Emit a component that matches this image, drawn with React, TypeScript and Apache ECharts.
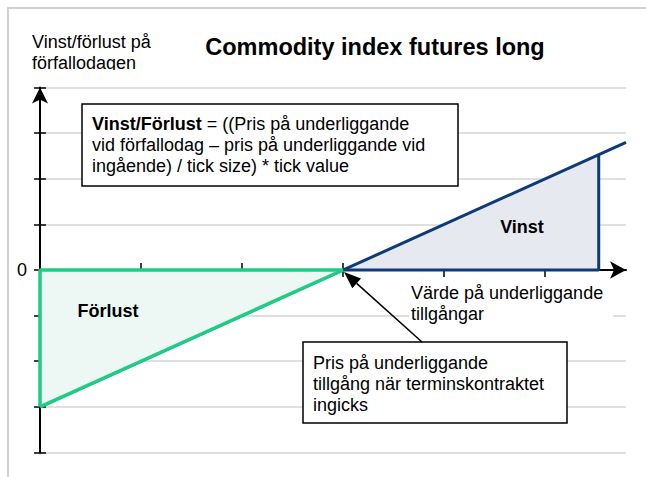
import React, { useEffect, useRef } from "react";
import * as echarts from "echarts";

// ---- data ----
const xMin = 0;
const xMax = 5.8;
const yMin = -4;
const yMax = 4;
const xTickValues = [1, 2, 3, 4, 5];
const yLabelValues = [0];
const payoffX = [0, 5.8];
const payoffY = [-3, 2.8];
const vinstHypX = [3, 5.53];
const vinstHypY = [0, 2.53];
const vinstEdgeX = [3, 5.53, 5.53];
const vinstEdgeY = [0, 0, 2.53];
const forlustHypX = [0, 3];
const forlustHypY = [-3, 0];
const forlustEdgeX = [0, 0, 3];
const forlustEdgeY = [-3, 0, 0];

const titleText = "Commodity index futures long";
const yTitleLines = ["Vinst/förlust på", "förfallodagen"];
const formulaBold = "Vinst/Förlust";
const formulaLines = [
  " = ((Pris på underliggande",
  "vid förfallodag – pris på underliggande vid",
  "ingående) / tick size) * tick value",
];
const xTitleLines = ["Värde på underliggande", "tillgångar"];
const noteLines = [
  "Pris på underliggande",
  "tillgång när terminskontraktet",
  "ingicks",
];
const vinstLabel = "Vinst";
const forlustLabel = "Förlust";

const FONT = "'Liberation Sans', Arial, Helvetica, sans-serif";
const BLUE = "#0c3b78";
const GREEN = "#1fcc86";

const zip = (xs: number[], ys: number[]) => xs.map((x, i) => [x, ys[i]]);

export default function App() {
  const ref = useRef<HTMLDivElement>(null);

  useEffect(() => {
    if (!ref.current) return;
    const chart = echarts.init(ref.current, null, { renderer: "svg" });

    // annotation arrow geometry
    const tip = [344, 272];
    const tail = [422, 342];
    const dx = tip[0] - tail[0];
    const dy = tip[1] - tail[1];
    const len = Math.sqrt(dx * dx + dy * dy);
    const ux = dx / len;
    const uy = dy / len;
    const hl = 17;
    const hw = 6.5;
    const bx = tip[0] - ux * hl;
    const by = tip[1] - uy * hl;
    const nx = -uy * hw;
    const ny = ux * hw;

    const baseX = {
      type: "value",
      min: xMin,
      max: xMax,
      gridIndex: 0,
      position: "bottom",
      splitLine: { show: false },
      axisLabel: { show: false },
    };
    const baseY = {
      type: "value",
      min: yMin,
      max: yMax,
      interval: 1,
      gridIndex: 0,
      position: "left",
    };

    const option: any = {
      animation: false,
      backgroundColor: "#ffffff",
      grid: {
        left: 40,
        top: 87.6,
        width: 586,
        height: 364.8,
        containLabel: false,
        outerBoundsMode: "none",
      },
      xAxis: [
        {
          ...baseX,
          axisLine: {
            show: true,
            onZero: true,
            symbol: ["none", "arrow"],
            symbolSize: [13, 16],
            lineStyle: { color: "#000", width: 2 },
          },
          axisTick: {
            show: true,
            inside: false,
            length: 7,
            customValues: xTickValues,
            lineStyle: { color: "#000", width: 1.5 },
          },
        },
        {
          ...baseX,
          axisLine: {
            show: true,
            onZero: true,
            symbol: "none",
            lineStyle: { color: "#000", width: 0, opacity: 0 },
          },
          axisTick: {
            show: true,
            inside: true,
            length: 7,
            customValues: xTickValues,
            lineStyle: { color: "#000", width: 1.5 },
          },
        },
      ],
      yAxis: [
        {
          ...baseY,
          axisLine: {
            show: true,
            symbol: ["none", "arrow"],
            symbolSize: [12, 16],
            lineStyle: { color: "#000", width: 2 },
          },
          axisTick: {
            show: true,
            inside: false,
            length: 6,
            lineStyle: { color: "#000", width: 1.5 },
          },
          splitLine: {
            show: true,
            lineStyle: { color: "#d6d6d6", width: 1.5 },
          },
          axisLabel: {
            show: true,
            margin: 13,
            color: "#000",
            fontSize: 18,
            fontFamily: FONT,
            customValues: yLabelValues,
            formatter: (v: number) => (yLabelValues.includes(v) ? String(v) : ""),
          },
        },
        {
          ...baseY,
          axisLine: {
            show: true,
            symbol: "none",
            lineStyle: { color: "#000", width: 0, opacity: 0 },
          },
          axisTick: {
            show: true,
            inside: true,
            length: 6,
            lineStyle: { color: "#000", width: 1.5 },
          },
          splitLine: { show: false },
          axisLabel: { show: false },
        },
      ],
      series: [
        {
          type: "line",
          name: "vinstArea",
          data: zip(vinstHypX, vinstHypY),
          symbol: "none",
          clip: false,
          z: 2,
          lineStyle: { opacity: 0, width: 0 },
          areaStyle: { color: "#e6e9f0", opacity: 1 },
        },
        {
          type: "line",
          name: "payoff",
          data: zip(payoffX, payoffY),
          symbol: "none",
          clip: false,
          z: 3,
          lineStyle: { color: BLUE, width: 3 },
        },
        {
          type: "line",
          name: "vinstEdges",
          data: zip(vinstEdgeX, vinstEdgeY),
          symbol: "none",
          clip: false,
          z: 4,
          lineStyle: { color: BLUE, width: 3 },
        },
        {
          type: "line",
          name: "forlustArea",
          data: zip(forlustHypX, forlustHypY),
          symbol: "none",
          clip: false,
          z: 5,
          lineStyle: { color: GREEN, width: 3.5 },
          areaStyle: { color: "#edf7f3", opacity: 1 },
        },
        {
          type: "line",
          name: "forlustEdges",
          data: zip(forlustEdgeX, forlustEdgeY),
          symbol: "none",
          clip: false,
          z: 5,
          lineStyle: { color: GREEN, width: 3.5 },
        },
      ],
      graphic: [
        {
          type: "polyline",
          z: 1,
          silent: true,
          shape: { points: [[8, 477], [8, 8], [646, 8]] },
          style: { stroke: "#d2d2d2", lineWidth: 2, fill: "none" },
        },
        {
          type: "text",
          z: 100,
          x: 375,
          y: 47,
          style: {
            text: titleText,
            fontFamily: FONT,
            fontSize: 23.5,
            fontWeight: "bold",
            fill: "#000",
            align: "center",
            verticalAlign: "middle",
          },
        },
        {
          type: "text",
          z: 100,
          x: 32,
          y: 31.3,
          style: {
            text: yTitleLines.join("\n"),
            fontFamily: FONT,
            fontSize: 18,
            lineHeight: 21,
            fill: "#000",
            align: "left",
            verticalAlign: "top",
          },
        },
        {
          type: "rect",
          z: 101,
          shape: { x: 26, y: 70, width: 140, height: 12 },
          style: { fill: "#ffffff" },
        },
        {
          type: "rect",
          z: 100,
          shape: { x: 82, y: 104, width: 376, height: 82 },
          style: { fill: "#ffffff", stroke: "#000", lineWidth: 1.5 },
        },
        {
          type: "text",
          z: 101,
          x: 92,
          y: 113.3,
          style: {
            text: "{b|" + formulaBold + "}" + formulaLines.join("\n"),
            fontFamily: FONT,
            fontSize: 18,
            lineHeight: 21,
            fill: "#000",
            align: "left",
            verticalAlign: "top",
            rich: {
              b: {
                fontFamily: FONT,
                fontSize: 18,
                lineHeight: 21,
                fontWeight: "bold",
                fill: "#000",
              },
            },
          },
        },
        {
          type: "text",
          z: 100,
          x: 522,
          y: 227,
          style: {
            text: vinstLabel,
            fontFamily: FONT,
            fontSize: 18,
            fontWeight: "bold",
            fill: "#000",
            align: "center",
            verticalAlign: "middle",
          },
        },
        {
          type: "text",
          z: 100,
          x: 108,
          y: 311,
          style: {
            text: forlustLabel,
            fontFamily: FONT,
            fontSize: 18,
            fontWeight: "bold",
            fill: "#000",
            align: "center",
            verticalAlign: "middle",
          },
        },
        {
          type: "rect",
          z: 100,
          shape: { x: 409, y: 283, width: 204, height: 41 },
          style: { fill: "#ffffff" },
        },
        {
          type: "text",
          z: 101,
          x: 411,
          y: 282.3,
          style: {
            text: xTitleLines.join("\n"),
            fontFamily: FONT,
            fontSize: 18,
            lineHeight: 21,
            fill: "#000",
            align: "left",
            verticalAlign: "top",
          },
        },
        {
          type: "rect",
          z: 100,
          shape: { x: 303, y: 342, width: 264, height: 81 },
          style: { fill: "#ffffff", stroke: "#000", lineWidth: 1.5 },
        },
        {
          type: "text",
          z: 101,
          x: 313,
          y: 352.3,
          style: {
            text: noteLines.join("\n"),
            fontFamily: FONT,
            fontSize: 18,
            lineHeight: 21,
            fill: "#000",
            align: "left",
            verticalAlign: "top",
          },
        },
        {
          type: "line",
          z: 102,
          shape: { x1: tail[0], y1: tail[1], x2: bx, y2: by },
          style: { stroke: "#000", lineWidth: 1.5 },
        },
        {
          type: "polygon",
          z: 102,
          shape: {
            points: [
              [tip[0], tip[1]],
              [bx + nx, by + ny],
              [bx - nx, by - ny],
            ],
          },
          style: { fill: "#000" },
        },
      ],
    };

    chart.setOption(option);
    return () => {
      chart.dispose();
    };
  }, []);

  return (
    <div
      ref={ref}
      style={{ position: "absolute", left: 0, top: 0, width: 646, height: 477 }}
    />
  );
}
